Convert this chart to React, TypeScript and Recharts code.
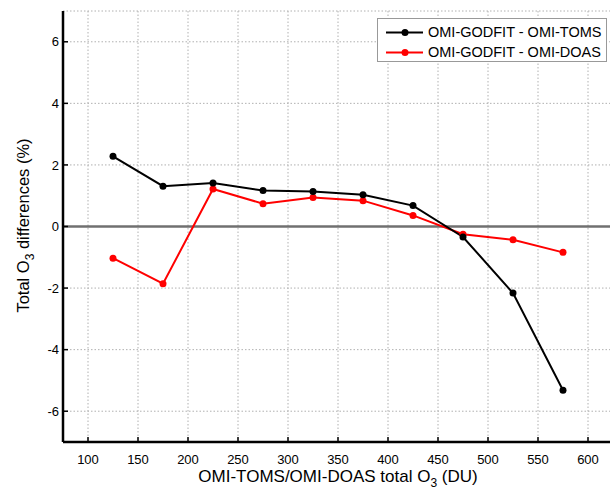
import React from 'react'
import { LineChart, Line, XAxis, YAxis, CartesianGrid, ReferenceLine } from 'recharts'

const ozone = [125, 175, 225, 275, 325, 375, 425, 475, 525, 575]
const godfitMinusToms = [2.28, 1.31, 1.41, 1.17, 1.14, 1.03, 0.68, -0.34, -2.16, -5.32]
const godfitMinusDoas = [-1.03, -1.86, 1.22, 0.74, 0.94, 0.84, 0.36, -0.25, -0.43, -0.84]
const xTicks = [100, 150, 200, 250, 300, 350, 400, 450, 500, 550, 600]
const yTicks = [-6, -4, -2, 0, 2, 4, 6]

const seriesNames = ['OMI-GODFIT - OMI-TOMS', 'OMI-GODFIT - OMI-DOAS']
const seriesColors = ['#000000', '#ff0000']

const FONT = '"Liberation Sans", Arial, Helvetica, sans-serif'

const chartData = ozone.map((o, i) => ({
  ozone: o,
  toms: godfitMinusToms[i],
  doas: godfitMinusDoas[i],
}))

// tick marks point into the plot, like the matlab style
const BottomTick = (props: any) => {
  const { x, y, payload } = props
  return (
    <g>
      <line x1={x} y1={y} x2={x} y2={y - 5} stroke="#000" strokeWidth={1.5} />
      <text x={x} y={y + 22} textAnchor="middle" fontSize={13} fontFamily={FONT} fill="#000">
        {payload.value}
      </text>
    </g>
  )
}

const TopTick = (props: any) => {
  const { x, y } = props
  return <line x1={x} y1={y} x2={x} y2={y + 5} stroke="#000" strokeWidth={1.5} />
}

const LeftTick = (props: any) => {
  const { x, y, payload } = props
  return (
    <g>
      <line x1={x} y1={y} x2={x + 5} y2={y} stroke="#000" strokeWidth={1.5} />
      <text x={x - 4} y={y + 4.7} textAnchor="end" fontSize={13} fontFamily={FONT} fill="#000">
        {payload.value}
      </text>
    </g>
  )
}

const RightTick = (props: any) => {
  const { x, y } = props
  return <line x1={x} y1={y} x2={x - 5} y2={y} stroke="#000" strokeWidth={1.5} />
}

const XTitle = (props: any) => {
  const vb = props.viewBox || { x: 63, y: 442, width: 550 }
  return (
    <text x={vb.x + vb.width / 2} y={vb.y + 40} textAnchor="middle" fontSize={17} fontFamily={FONT} fill="#000">
      OMI-TOMS/OMI-DOAS total O
      <tspan fontSize={12} dy={5}>3</tspan>
      <tspan dy={-5}> (DU)</tspan>
    </text>
  )
}

const YTitle = (props: any) => {
  const vb = props.viewBox || { y: 11, height: 431 }
  const cx = 29
  const cy = vb.y + vb.height / 2 - 1
  return (
    <text
      x={cx}
      y={cy}
      transform={`rotate(-90 ${cx} ${cy})`}
      textAnchor="middle"
      fontSize={16.5}
      fontFamily={FONT}
      fill="#000"
    >
      Total O
      <tspan fontSize={12} dy={5}>3</tspan>
      <tspan dy={-5}> differences (%)</tspan>
    </text>
  )
}

const LegendBox = () => (
  <div
    style={{
      position: 'absolute',
      left: 377,
      top: 18,
      width: 228,
      height: 42,
      border: '1px solid #999',
      background: '#fff',
      fontFamily: FONT,
      fontSize: 14.5,
      color: '#000',
    }}
  >
    {seriesNames.map((name, i) => (
      <div key={name} style={{ position: 'absolute', left: 0, top: 4 + i * 20, height: 20, width: 228 }}>
        <svg width={50} height={20} style={{ position: 'absolute', left: 0, top: 0 }}>
          <line x1={8} y1={9.5} x2={45} y2={9.5} stroke={seriesColors[i]} strokeWidth={2} />
          <circle cx={27} cy={9.5} r={3.5} fill={seriesColors[i]} />
        </svg>
        <span style={{ position: 'absolute', left: 50, top: 1, lineHeight: '17px', whiteSpace: 'nowrap' }}>{name}</span>
      </div>
    ))}
  </div>
)

export default function App() {
  return (
    <div style={{ position: 'absolute', left: 0, top: 0, width: 610, height: 492, overflow: 'hidden', background: '#fff' }}>
      <LineChart width={650} height={492} data={chartData} margin={{ top: 11, right: 37, bottom: 0, left: 0 }}>
        <CartesianGrid xAxisId="b" yAxisId="l" stroke="#b0b0b0" strokeDasharray="1.5 2" strokeWidth={1} />
        <XAxis
          xAxisId="b"
          dataKey="ozone"
          type="number"
          domain={[75, 625]}
          ticks={xTicks}
          allowDataOverflow
          height={50}
          tickSize={0}
          tickMargin={0}
          tick={<BottomTick />}
          axisLine={{ stroke: '#000', strokeWidth: 2.5 }}
          label={(p: any) => <XTitle {...p} />}
        />
        <XAxis
          xAxisId="t"
          orientation="top"
          dataKey="ozone"
          type="number"
          domain={[75, 625]}
          ticks={xTicks}
          allowDataOverflow
          height={0}
          tickSize={0}
          tickMargin={0}
          tick={<TopTick />}
          axisLine={{ stroke: '#000', strokeWidth: 2.5 }}
        />
        <YAxis
          yAxisId="l"
          type="number"
          domain={[-7, 7]}
          ticks={yTicks}
          allowDataOverflow
          width={63}
          tickSize={0}
          tickMargin={0}
          tick={<LeftTick />}
          axisLine={{ stroke: '#000', strokeWidth: 2.5 }}
          label={(p: any) => <YTitle {...p} />}
        />
        <YAxis
          yAxisId="r"
          orientation="right"
          type="number"
          domain={[-7, 7]}
          ticks={yTicks}
          allowDataOverflow
          width={0}
          tickSize={0}
          tickMargin={0}
          tick={<RightTick />}
          axisLine={{ stroke: '#000', strokeWidth: 2.5 }}
        />
        <ReferenceLine xAxisId="b" yAxisId="l" y={0} stroke="#707070" strokeWidth={2.5} />
        <Line
          xAxisId="b"
          yAxisId="l"
          dataKey="doas"
          name={seriesNames[1]}
          type="linear"
          stroke={seriesColors[1]}
          strokeWidth={2}
          dot={{ r: 3.5, fill: seriesColors[1], stroke: seriesColors[1], strokeWidth: 0 }}
          activeDot={false}
          isAnimationActive={false}
        />
        <Line
          xAxisId="b"
          yAxisId="l"
          dataKey="toms"
          name={seriesNames[0]}
          type="linear"
          stroke={seriesColors[0]}
          strokeWidth={2}
          dot={{ r: 3.5, fill: seriesColors[0], stroke: seriesColors[0], strokeWidth: 0 }}
          activeDot={false}
          isAnimationActive={false}
        />
      </LineChart>
      <LegendBox />
    </div>
  )
}
